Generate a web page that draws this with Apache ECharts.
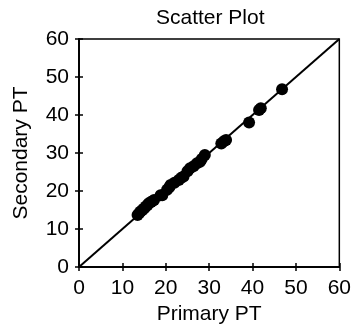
<!DOCTYPE html>
<html><head><meta charset="utf-8">
<script src="https://cdn.jsdelivr.net/npm/echarts@6/dist/echarts.min.js"></script>
<style>html,body{margin:0;padding:0;background:#fff}#c{width:354px;height:332px}</style>
</head><body><div id="c"></div>
<script>
const titleText = "Scatter Plot";
const xName = "Primary PT";
const yName = "Secondary PT";
const primaryPT = [13.5,13.9,14.2,14.6,15.0,15.4,15.8,16.1,16.6,17.0,17.3,18.8,19.2,20.3,20.8,21.1,22.0,23.0,23.6,24.1,25.0,25.6,26.4,27.2,27.9,28.3,29.0,32.8,33.4,33.9,39.2,41.5,41.9,46.8];
const secondaryPT = [13.7,14.2,14.6,15.0,15.4,15.9,16.3,16.8,17.1,17.4,17.6,18.9,18.9,20.3,21.0,21.6,22.2,22.9,23.5,23.8,25.2,26.0,26.5,27.3,27.7,28.4,29.5,32.5,33.1,33.4,38.0,41.3,41.8,46.8];
const identityX = [0, 60];
const identityY = [0, 60];
const axisMin = 0, axisMax = 60, axisStep = 10;

const font = 'Liberation Sans, Arial, Helvetica, sans-serif';
const fs = 21;
const chart = echarts.init(document.getElementById('c'), null, {renderer:'canvas'});
const baseAxis = {
  min: axisMin, max: axisMax, interval: axisStep, type: 'value',
  splitLine: {show:false},
  axisLine: {show:true, onZero:false, lineStyle:{color:'#000', width:1.5}},
};
chart.setOption({
  animation: false,
  backgroundColor: '#fff',
  title: {text: titleText, left: 151, top: 3,
    textStyle: {fontFamily: font, fontSize: fs, fontWeight: 'normal', color: '#000'}},
  grid: {left: 79, right: 11, top: 39, bottom: 65, show: true, borderColor: '#000', borderWidth: 1.5, backgroundColor: 'transparent'},
  xAxis: [
    Object.assign({}, baseAxis, {position:'bottom', name: xName, nameLocation:'middle', nameGap: 33,
      nameTextStyle:{fontFamily:font, fontSize:fs, color:'#000'},
      axisTick:{show:true, inside:false, length:4, lineStyle:{color:'#000', width:1.5}},
      axisLabel:{fontFamily:font, fontSize:fs, color:'#000', margin:11}}),
    Object.assign({}, baseAxis, {position:'bottom',
      axisTick:{show:true, inside:true, length:4, lineStyle:{color:'#000', width:1.5}},
      axisLabel:{show:false}})
  ],
  yAxis: [
    Object.assign({}, baseAxis, {position:'left', name: yName, nameLocation:'middle', nameGap: 47,
      nameTextStyle:{fontFamily:font, fontSize:fs, color:'#000'},
      axisTick:{show:true, inside:false, length:4, lineStyle:{color:'#000', width:1.5}},
      axisLabel:{fontFamily:font, fontSize:fs, color:'#000', margin:10}}),
    Object.assign({}, baseAxis, {position:'left',
      axisTick:{show:true, inside:true, length:4, lineStyle:{color:'#000', width:1.5}},
      axisLabel:{show:false}})
  ],
  series: [
    {type:'line', data: identityX.map((v,i)=>[v, identityY[i]]), showSymbol:false, symbol:'none',
      lineStyle:{color:'#000', width:2}, silent:true, z:2},
    {type:'scatter', data: primaryPT.map((v,i)=>[v, secondaryPT[i]]), symbol:'circle', symbolSize:12,
      itemStyle:{color:'#000', opacity:1}, z:3}
  ]
});
</script></body></html>
